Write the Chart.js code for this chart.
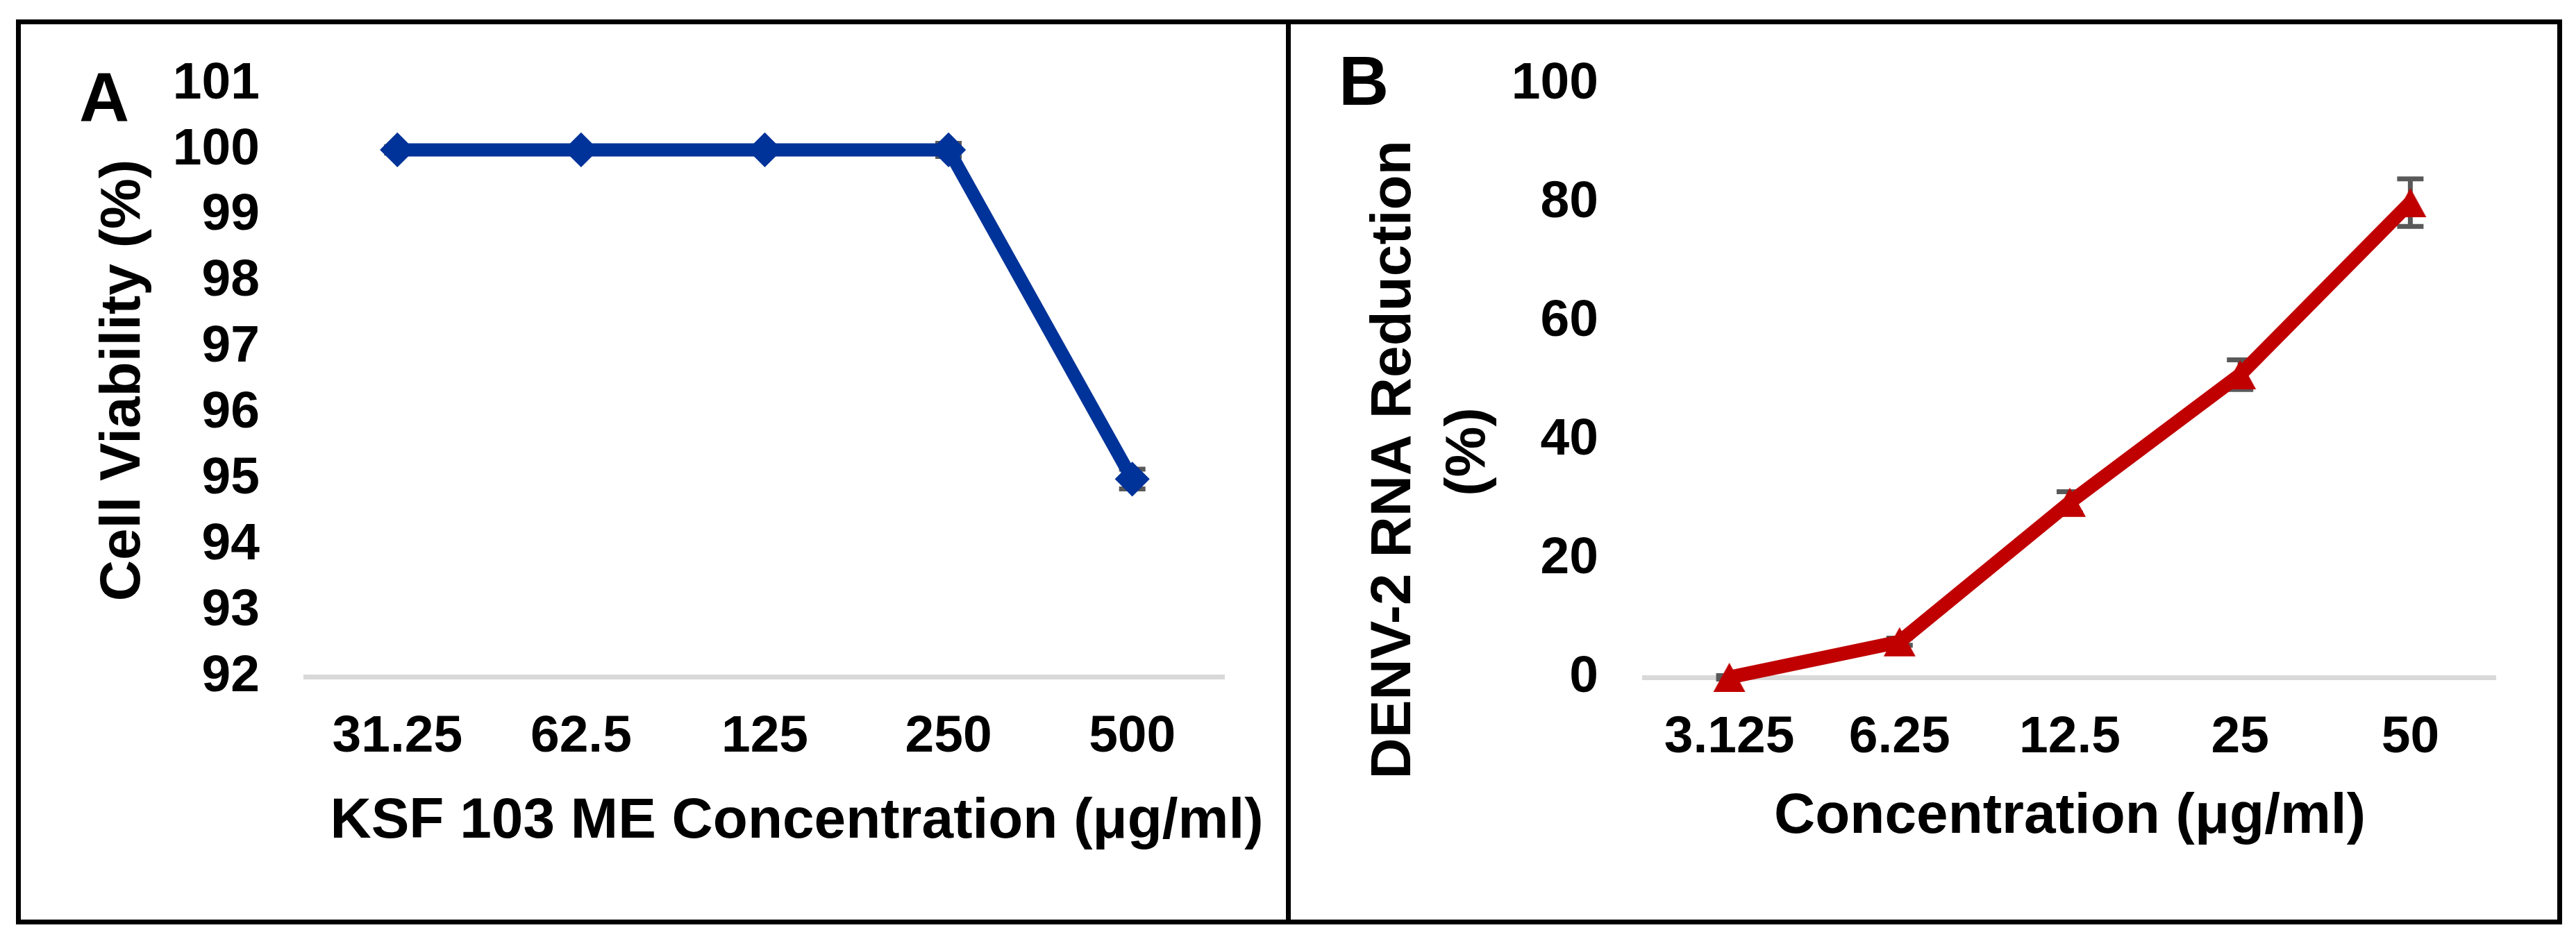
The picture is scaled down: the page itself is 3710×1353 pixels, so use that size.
<!DOCTYPE html>
<html>
<head>
<meta charset="utf-8">
<script src="https://cdn.jsdelivr.net/npm/chart.js@4.4.1/dist/chart.umd.min.js"></script>
<style>
  html, body { margin: 0; padding: 0; background: #fff; }
  body { width: 3710px; height: 1353px; position: relative; overflow: hidden; }
  canvas { position: absolute; left: 0; top: 0; }
  .frame { position: absolute; left: 23px; top: 28px; width: 3653px; height: 1290px; border: 7px solid #000; }
  .divider { position: absolute; left: 1852px; top: 28px; width: 7px; height: 1304px; background: #000; }
  .tag { position: absolute; font-family: 'Liberation Sans', Arial, sans-serif; font-weight: bold; font-size: 100px; line-height: 100px; color: #000; }
  .xtitle { position: absolute; left: 0; width: 2295px; top: 1138px; text-align: center; white-space: pre;
            font-family: 'Liberation Sans', Arial, sans-serif; font-weight: bold; font-size: 82px; line-height: 82px; color: #000; }
</style>
</head>
<body>
<div class="frame"></div>
<div class="divider"></div>
<canvas id="chartA" width="3710" height="1353"></canvas>
<canvas id="chartB" width="3710" height="1353"></canvas>
<div class="tag" style="left:114px; top:90px;">A</div>
<div class="tag" style="left:1928px; top:66px;">B</div>
<!-- panel A axis title is wider than its plot, so it sits outside the canvas to avoid maxWidth squeezing -->
<div class="xtitle" id="xTitleA"></div>
<script>
// panel A - cytotoxicity
const concA = ['31.25', '62.5', '125', '250', '500'];
const viabilityA = [100, 100, 100, 100, 95];
const viabilityErrA = [0.05, 0.05, 0.05, 0.1, 0.15];

// panel B - antiviral activity
const concB = ['3.125', '6.25', '12.5', '25', '50'];
const reductionB = [0, 6, 29.5, 51, 80];
const reductionErrB = [0.3, 0.6, 1.8, 2.5, 4];

const FONT = "'Liberation Sans', Arial, sans-serif";

document.getElementById('xTitleA').textContent = 'KSF 103 ME Concentration (\u03bcg/ml)';

// excel-style triangle, centred on its bounding box
function triangleMarker(color) {
    const c = document.createElement('canvas');
    c.width = 48; c.height = 44;
    const g = c.getContext('2d');
    g.fillStyle = color;
    g.beginPath();
    g.moveTo(24, 1);
    g.lineTo(47, 43);
    g.lineTo(1, 43);
    g.closePath();
    g.fill();
    return c;
}

// error bars drawn behind the series
const errorBars = {
    id: 'errorBars',
    beforeDatasetsDraw(chart) {
        const ctx = chart.ctx;
        const x = chart.scales.x, y = chart.scales.y;
        chart.data.datasets.forEach(ds => {
            if (!ds.errors) return;
            ctx.save();
            ctx.strokeStyle = '#595959';
            ctx.lineWidth = 7;
            ds.data.forEach((v, i) => {
                const px = x.getPixelForValue(i);
                const top = y.getPixelForValue(v + ds.errors[i]);
                const bot = y.getPixelForValue(v - ds.errors[i]);
                ctx.beginPath();
                ctx.moveTo(px, top); ctx.lineTo(px, bot);
                ctx.moveTo(px - 19, top); ctx.lineTo(px + 19, top);
                ctx.moveTo(px - 19, bot); ctx.lineTo(px + 19, bot);
                ctx.stroke();
            });
            ctx.restore();
        });
    }
};

function makeOptions(o) {
    return {
        responsive: false,
        animation: false,
        devicePixelRatio: 1,
        layout: { padding: o.padding },
        plugins: { legend: { display: false }, tooltip: { enabled: false } },
        scales: {
            x: {
                offset: true,
                grid: { display: false, drawTicks: false },
                border: { display: true, color: '#d9d9d9', width: 7 },
                ticks: { color: '#000', padding: 42, font: { family: FONT, size: 75, weight: 'bold' } },
                title: {
                    display: !!o.xTitle, text: o.xTitle || '', color: '#000',
                    font: { family: FONT, size: 82, weight: 'bold', lineHeight: 1.3 },
                    padding: { top: 0, bottom: 122 }
                },
                afterFit(scale) { scale.height = o.xHeight; }
            },
            y: {
                min: o.min, max: o.max,
                grid: { display: false, drawTicks: false },
                border: { display: false },
                ticks: { stepSize: o.step, color: '#000', padding: 66, font: { family: FONT, size: 75, weight: 'bold' } },
                title: {
                    display: true, text: o.yTitle, color: '#000',
                    font: { family: FONT, size: 82, weight: 'bold', lineHeight: 1.3 },
                    padding: { top: o.yTitlePad, bottom: 0 }
                },
                afterFit(scale) { scale.width = o.yWidth; }
            }
        }
    };
}

new Chart(document.getElementById('chartA'), {
    type: 'line',
    data: {
        labels: concA,
        datasets: [{
            data: viabilityA,
            errors: viabilityErrA,
            borderColor: '#003399',
            backgroundColor: '#003399',
            borderWidth: 19,
            pointStyle: 'rectRot',
            pointRadius: 23,
            pointBorderWidth: 3,
            tension: 0,
            clip: false
        }]
    },
    options: makeOptions({
        padding: { left: 0, top: 121, right: 1947, bottom: 0 },
        yTitle: 'Cell Viability (%)',
        yTitlePad: 125,
        yWidth: 440,
        xHeight: 378,
        min: 92, max: 101, step: 1
    }),
    plugins: [errorBars]
});

new Chart(document.getElementById('chartB'), {
    type: 'line',
    data: {
        labels: concB,
        datasets: [{
            data: reductionB,
            errors: reductionErrB,
            borderColor: '#c00000',
            backgroundColor: '#c00000',
            borderWidth: 20,
            pointStyle: triangleMarker('#c00000'),
            pointRadius: 24,
            tension: 0,
            clip: false
        }]
    },
    options: makeOptions({
        padding: { left: 1860, top: 121, right: 116, bottom: 0 },
        xTitle: 'Concentration (\u03bcg/ml)',
        yTitle: ['DENV-2 RNA Reduction          ', '(%)         '],
        yTitlePad: 95,
        yWidth: 508,
        xHeight: 377,
        min: 0, max: 100, step: 20
    }),
    plugins: [errorBars]
});
</script>
</body>
</html>
